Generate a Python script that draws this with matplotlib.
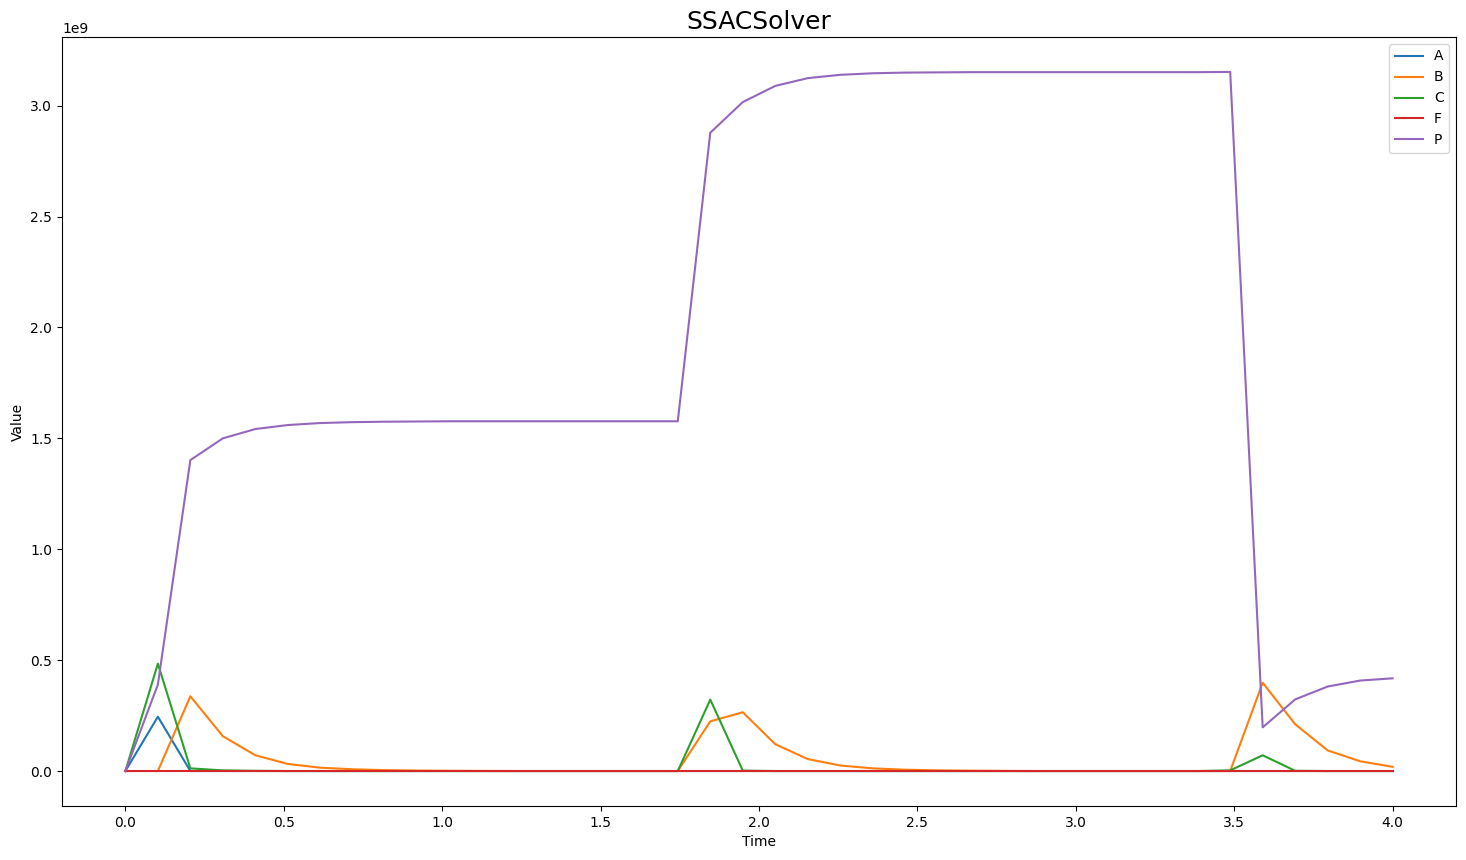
import numpy as np
import matplotlib.pyplot as plt

## data (40 time points from 0 to 4)
time = np.linspace(0, 4, 40)

A = [0, 0.245e9] + [0] * 38

B = [0, 0, 0.337e9, 0.157e9, 0.071e9, 0.032e9, 0.015e9, 0.008e9, 0.004e9, 0.002e9,
     0.001e9, 0.0005e9, 0, 0, 0, 0, 0, 0, 0.224e9, 0.265e9,
     0.121e9, 0.054e9, 0.025e9, 0.012e9, 0.006e9, 0.003e9, 0.0015e9, 0.0007e9, 0, 0,
     0, 0, 0, 0, 0, 0.398e9, 0.211e9, 0.093e9, 0.044e9, 0.019e9]

C = [0, 0.484e9, 0.012e9, 0.003e9, 0.001e9, 0, 0, 0, 0, 0,
     0, 0, 0, 0, 0, 0, 0, 0, 0.322e9, 0.002e9,
     0, 0, 0, 0, 0, 0, 0, 0, 0, 0,
     0, 0, 0, 0, 0.003e9, 0.071e9, 0.001e9, 0, 0, 0]

F = [0] * 40

P = [0, 0.39e9, 1.402e9, 1.500e9, 1.542e9, 1.560e9, 1.569e9, 1.573e9, 1.575e9, 1.576e9,
     1.577e9, 1.577e9, 1.577e9, 1.577e9, 1.577e9, 1.577e9, 1.577e9, 1.577e9, 2.878e9, 3.016e9,
     3.089e9, 3.124e9, 3.139e9, 3.146e9, 3.149e9, 3.150e9, 3.151e9, 3.151e9, 3.151e9, 3.151e9,
     3.151e9, 3.151e9, 3.151e9, 3.151e9, 3.152e9, 0.197e9, 0.323e9, 0.381e9, 0.408e9, 0.418e9]

species = {'A': A, 'B': B, 'C': C, 'F': F, 'P': P}

## plot
fig, ax = plt.subplots(figsize=(14.66, 8.6), dpi=100)
for name, values in species.items():
    ax.plot(time, values, label=name)

ax.set_title('SSACSolver', fontsize=18)
ax.set_xlabel('Time')
ax.set_ylabel('Value')
ax.legend(loc='upper right')
fig.subplots_adjust(left=0.0423, right=0.9932, top=0.957, bottom=0.0628)
fig.savefig('out.png', dpi=100)
